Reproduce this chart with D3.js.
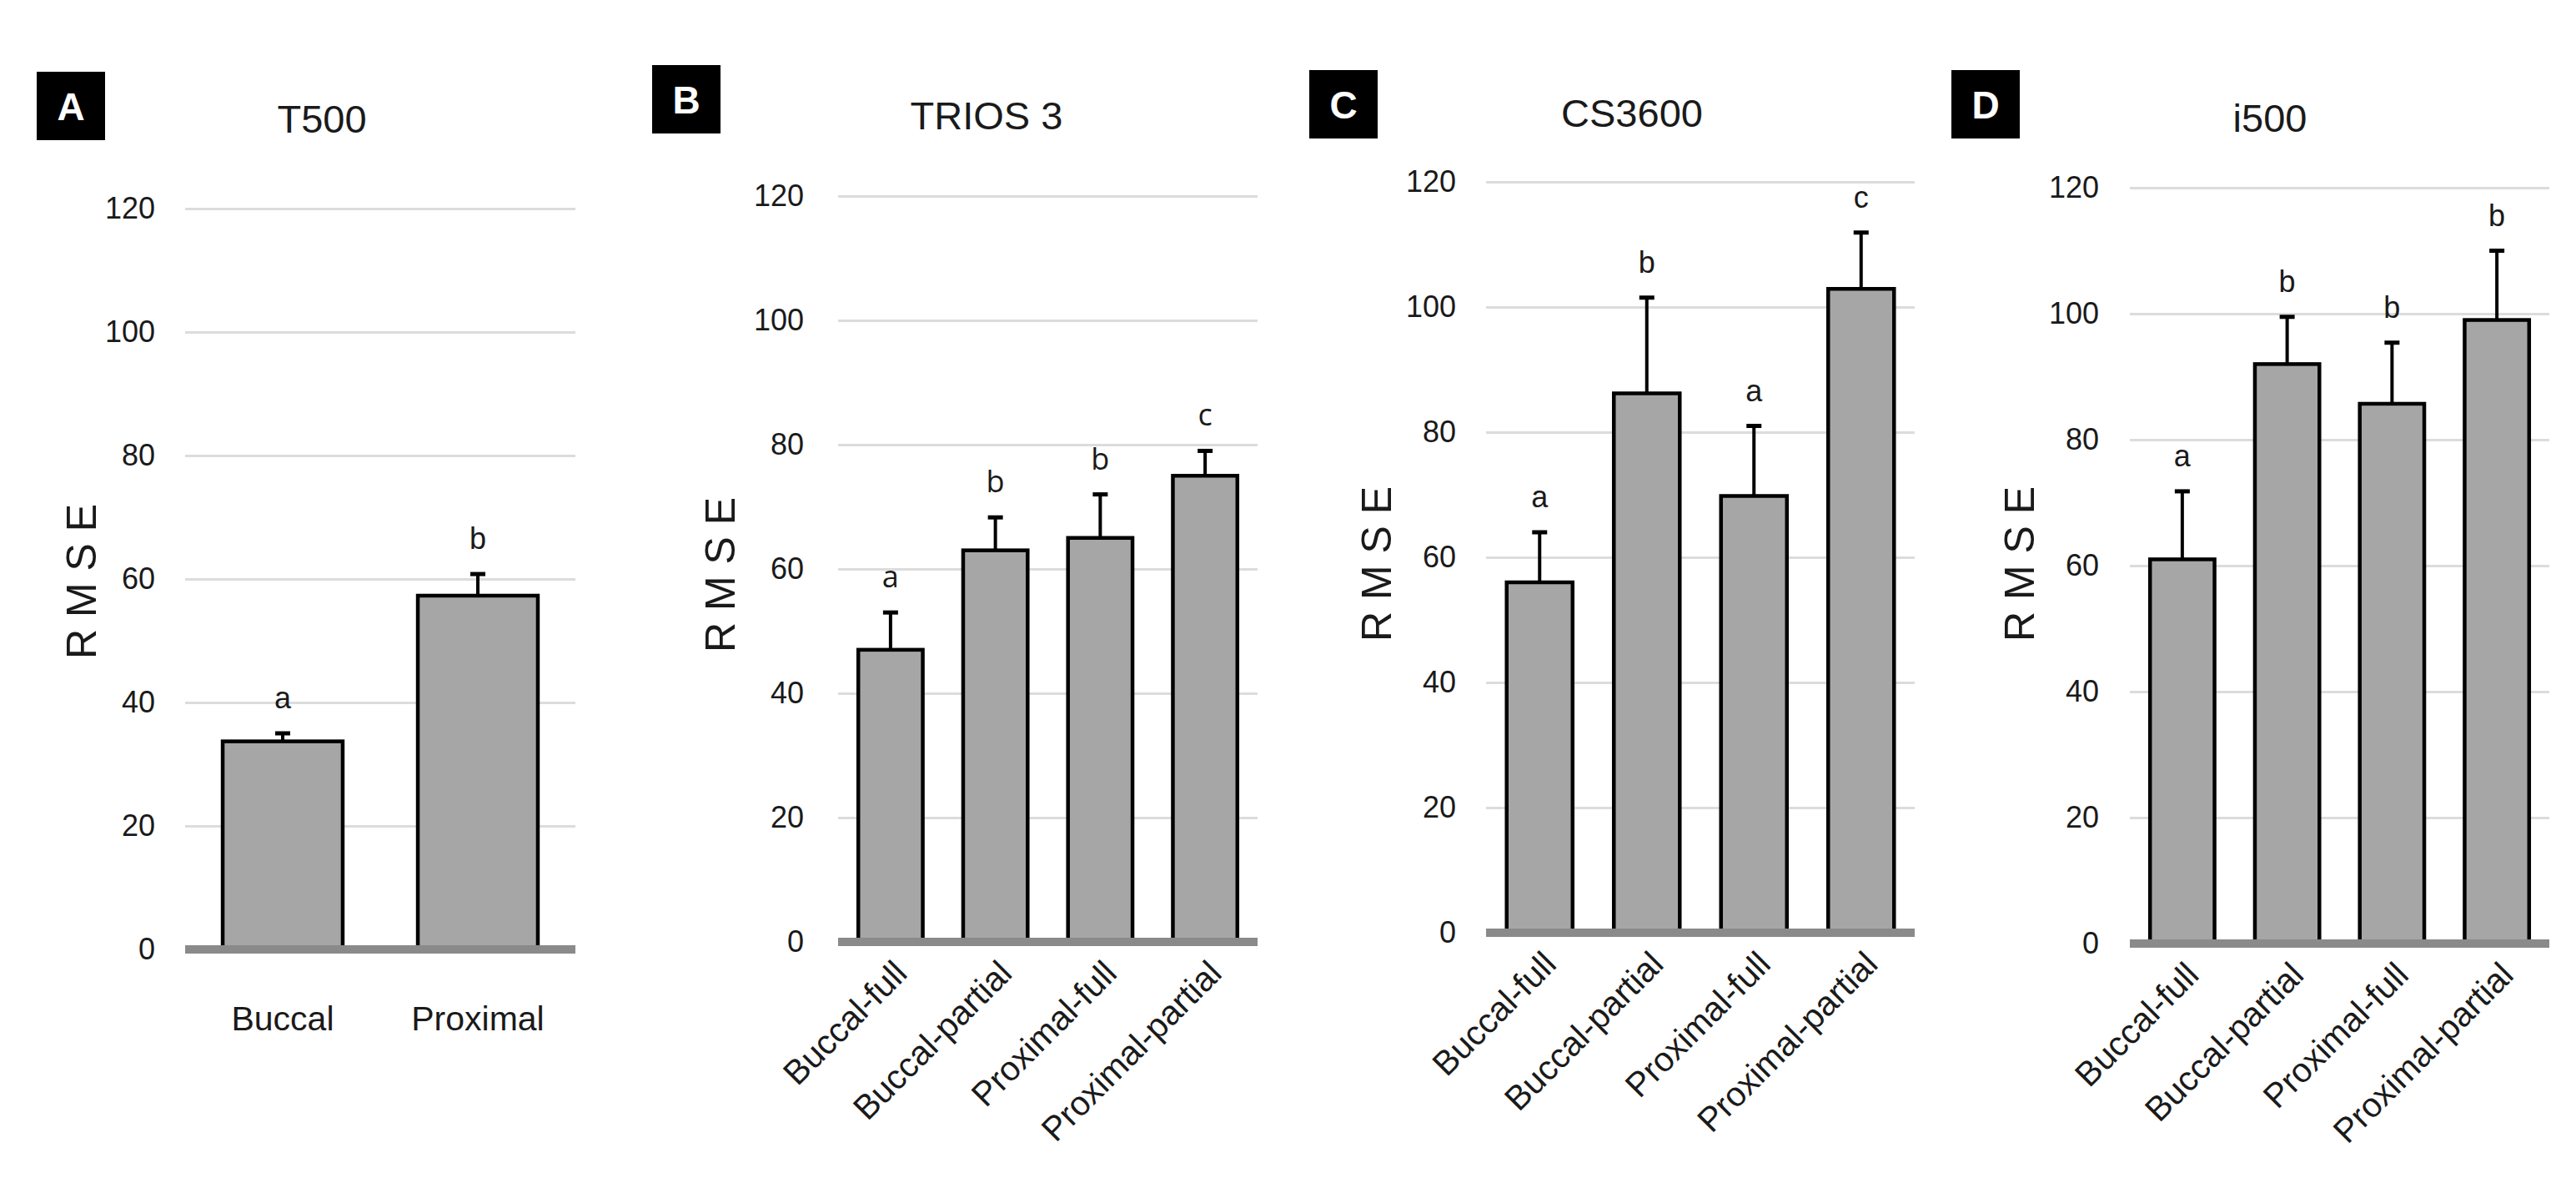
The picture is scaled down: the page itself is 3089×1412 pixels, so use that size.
<!DOCTYPE html>
<html>
<head>
<meta charset="utf-8">
<script src="https://cdn.jsdelivr.net/npm/d3@7"></script>
<style>
  body { margin: 0; background: #fff; }
  svg { display: block; }
</style>
</head>
<body>
<div id="chart"></div>
<script>
// panel ids and scanner names
var panelLetters = ["A", "B", "C", "D"];
var scanners = ["T500", "TRIOS 3", "CS3600", "i500"];

// categories
var catsT500 = ["Buccal", "Proximal"];
var catsFour = ["Buccal-full", "Buccal-partial", "Proximal-full", "Proximal-partial"];

// mean RMSE, SD and significance letters
var meanT500 = [33.7, 57.3];
var sdT500 = [1.3, 3.5];
var groupT500 = ["a", "b"];

var meanTrios = [47.0, 63.0, 65.0, 75.0];
var sdTrios = [6.0, 5.3, 7.0, 4.0];
var groupTrios = ["a", "b", "b", "c"];

var meanCS = [56.0, 86.2, 69.8, 102.9];
var sdCS = [8.0, 15.3, 11.2, 9.0];
var groupCS = ["a", "b", "a", "c"];

var meanI500 = [61.0, 92.0, 85.7, 99.0];
var sdI500 = [10.8, 7.5, 9.7, 11.0];
var groupI500 = ["a", "b", "b", "b"];

var yTicks = [0, 20, 40, 60, 80, 100, 120];
var yLabel = "R M S E";

// where each panel sits on the page
var layout = [
  {left: 222, right: 690, y0: 1138, yTop: 250, tickRight: 186, box: [44, 86], title: [386, 159], ylab: [97, 697], rotate: false},
  {left: 1005, right: 1508, y0: 1129, yTop: 235, tickRight: 964, box: [782, 78], title: [1183, 155], ylab: [863, 689], rotate: true},
  {left: 1782, right: 2296, y0: 1118, yTop: 218, tickRight: 1746, box: [1570, 84], title: [1957, 152], ylab: [1650, 676], rotate: true},
  {left: 2554, right: 3057, y0: 1131, yTop: 225, tickRight: 2517, box: [2340, 84], title: [2722, 158], ylab: [2421, 676], rotate: true}
];

var panels = [
  {cats: catsT500, mean: meanT500, sd: sdT500, group: groupT500},
  {cats: catsFour, mean: meanTrios, sd: sdTrios, group: groupTrios},
  {cats: catsFour, mean: meanCS, sd: sdCS, group: groupCS},
  {cats: catsFour, mean: meanI500, sd: sdI500, group: groupI500}
];

var svg = d3.select("#chart").append("svg")
    .attr("width", 3089)
    .attr("height", 1412);

svg.append("rect").attr("width", 3089).attr("height", 1412).attr("fill", "#fff");

var narrow = "'Liberation Sans Narrow', 'Arial Narrow', 'Liberation Sans', sans-serif";
var sans = "'Liberation Sans', Arial, sans-serif";

panels.forEach(function(p, i) {
  var L = layout[i];
  var g = svg.append("g");

  var data = p.cats.map(function(c, j) {
    return {cat: c, mean: p.mean[j], sd: p.sd[j], group: p.group[j]};
  });

  var x = d3.scaleBand()
      .domain(p.cats)
      .range([L.left, L.right])
      .paddingInner(0.385)
      .paddingOuter(0.1925);
  var y = d3.scaleLinear().domain([0, 120]).range([L.y0, L.yTop]);

  // gridlines + tick labels
  var ax = g.append("g")
      .attr("transform", "translate(" + L.left + ",0)")
      .call(d3.axisLeft(y)
        .tickValues(yTicks)
        .tickSize(-(L.right - L.left))
        .tickPadding(L.left - L.tickRight));
  ax.select(".domain").remove();
  ax.selectAll(".tick line")
      .attr("stroke", "#dcdcdc")
      .attr("stroke-width", 3);
  ax.selectAll(".tick text")
      .attr("fill", "#1a1a1a")
      .style("font-family", narrow)
      .style("font-size", "36px");

  // bars
  g.selectAll(".bar")
    .data(data)
    .enter().append("rect")
      .attr("class", "bar")
      .attr("x", function(d) { return x(d.cat); })
      .attr("y", function(d) { return y(d.mean); })
      .attr("width", x.bandwidth())
      .attr("height", function(d) { return y(0) - y(d.mean); })
      .attr("fill", "#a6a6a6")
      .attr("stroke", "#000")
      .attr("stroke-width", 4.5);

  // error bars (upper only)
  var cx = function(d) { return x(d.cat) + x.bandwidth() / 2; };
  g.selectAll(".err")
    .data(data)
    .enter().append("line")
      .attr("x1", cx).attr("x2", cx)
      .attr("y1", function(d) { return y(d.mean); })
      .attr("y2", function(d) { return y(d.mean + d.sd); })
      .attr("stroke", "#000")
      .attr("stroke-width", 4);
  g.selectAll(".cap")
    .data(data)
    .enter().append("line")
      .attr("x1", function(d) { return cx(d) - 9; })
      .attr("x2", function(d) { return cx(d) + 9; })
      .attr("y1", function(d) { return y(d.mean + d.sd); })
      .attr("y2", function(d) { return y(d.mean + d.sd); })
      .attr("stroke", "#000")
      .attr("stroke-width", 5);

  // significance letters
  g.selectAll(".grp")
    .data(data)
    .enter().append("text")
      .attr("x", cx)
      .attr("y", function(d) { return y(d.mean + d.sd) - 30; })
      .attr("text-anchor", "middle")
      .attr("fill", "#1a1a1a")
      .style("font-family", i == 1 ? "'Open Sans', sans-serif" : narrow)
      .style("font-size", "36px")
      .text(function(d) { return d.group; });

  // baseline
  g.append("line")
      .attr("x1", L.left).attr("x2", L.right)
      .attr("y1", y(0)).attr("y2", y(0))
      .attr("stroke", "#8a8a8a")
      .attr("stroke-width", 10);

  // category labels
  var lab = g.selectAll(".cat")
    .data(data)
    .enter().append("text")
      .attr("fill", "#1a1a1a")
      .style("font-family", sans)
      .style("font-size", "41px")
      .text(function(d) { return d.cat; });
  if (L.rotate) {
    lab.attr("text-anchor", "end")
       .attr("dy", "0.35em")
       .attr("transform", function(d) {
         return "translate(" + (cx(d) + 12) + "," + (y(0) + 30) + ") rotate(-45)";
       });
  } else {
    lab.attr("text-anchor", "middle")
       .attr("x", cx)
       .attr("y", y(0) + 97);
  }

  // y label
  g.append("text")
      .attr("transform", "translate(" + L.ylab[0] + "," + L.ylab[1] + ") rotate(-90)")
      .attr("text-anchor", "middle")
      .attr("dy", "0.35em")
      .attr("fill", "#1a1a1a")
      .style("font-family", sans)
      .style("font-size", "50px")
      .text(yLabel);

  // title
  g.append("text")
      .attr("x", L.title[0])
      .attr("y", L.title[1])
      .attr("text-anchor", "middle")
      .attr("fill", "#1a1a1a")
      .style("font-family", sans)
      .style("font-size", "47px")
      .text(scanners[i]);

  // panel letter box
  g.append("rect")
      .attr("x", L.box[0]).attr("y", L.box[1])
      .attr("width", 82).attr("height", 82)
      .attr("fill", "#000");
  g.append("text")
      .attr("x", L.box[0] + 41)
      .attr("y", L.box[1] + 41)
      .attr("dy", "0.36em")
      .attr("text-anchor", "middle")
      .attr("fill", "#fff")
      .style("font-family", sans)
      .style("font-weight", "bold")
      .style("font-size", "46px")
      .text(panelLetters[i]);
});
</script>
</body>
</html>
